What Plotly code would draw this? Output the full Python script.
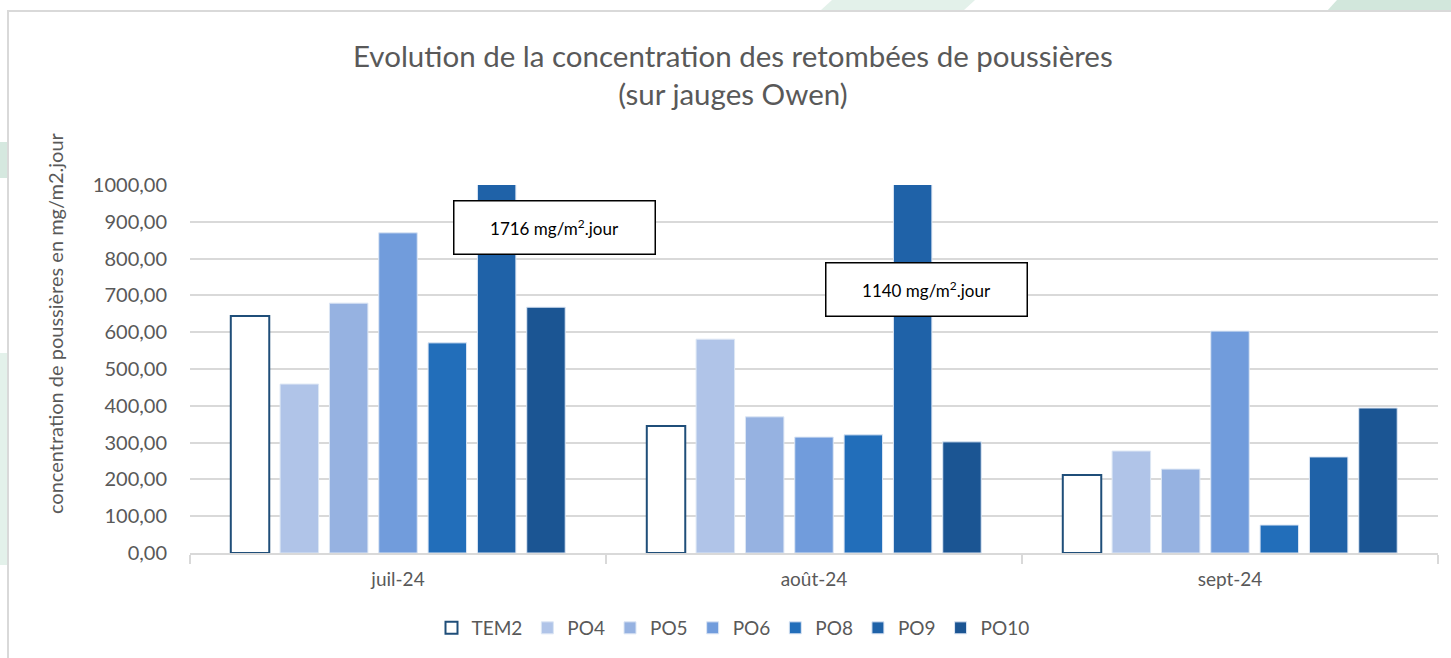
import plotly.graph_objects as go

months = ["juil-24", "août-24", "sept-24"]
series_names = ["TEM2", "PO4", "PO5", "PO6", "PO8", "PO9", "PO10"]
TEM2 = [644, 345, 212]
PO4 = [459, 581, 277]
PO5 = [679, 370, 228]
PO6 = [870, 315, 603]
PO8 = [571, 321, 76]
PO9 = [1716, 1140, 261]
PO10 = [668, 302, 394]
series_values = [TEM2, PO4, PO5, PO6, PO8, PO9, PO10]
fill_colors = ["#FFFFFF", "#B0C4E8", "#96B2E1", "#719CDC", "#226EBA", "#1F62A8", "#1B5593"]
line_colors = ["#1F4E79", "#DCE6F4", "#DCE6F4", "#DCE6F4", "#DCE6F4", "#DCE6F4", "#DCE6F4"]
line_widths = [2, 1, 1, 1, 1, 1, 1]
callouts = ["1716 mg/m<sup>2</sup>.jour", "1140 mg/m<sup>2</sup>.jour"]
title_text = "Evolution de la concentration des retombées de poussières<br>(sur jauges Owen)"
y_title = "concentration de poussières en mg/m2.jour"

FONT = "Lato"
GREY = "#595959"

fig = go.Figure()
for name, vals, fc, lc, lw in zip(series_names, series_values, fill_colors, line_colors, line_widths):
    fig.add_trace(go.Bar(
        name=name, x=months, y=vals,
        marker=dict(color=fc, line=dict(color=lc, width=lw)),
    ))

W, H = 1451, 658
L, R, T, B = 190, 13, 185, 105
pw, ph = W - L - R, H - T - B

def px_x(p):
    return (p - L) / pw

def px_y(p):
    return (H - B - p) / ph

shapes = []
for x0, x1, y0, y1, c in [(0, 7, 142, 178, "#D5E8DF"), (0, 7, 353, 565, "#E3F1EA")]:
    shapes.append(dict(type="rect", xref="paper", yref="paper", x0=px_x(x0), x1=px_x(x1),
                       y0=px_y(y1), y1=px_y(y0), fillcolor=c, line=dict(width=0), layer="below"))
shapes.append(dict(type="path", xref="paper", yref="paper",
                   path=f"M {px_x(820)} {px_y(11)} L {px_x(832)} {px_y(0)} L {px_x(975)} {px_y(0)} L {px_x(963)} {px_y(11)} Z",
                   fillcolor="#E3F1EA", line=dict(width=0), layer="below"))
shapes.append(dict(type="path", xref="paper", yref="paper",
                   path=f"M {px_x(1327)} {px_y(11)} L {px_x(1337)} {px_y(0)} L {px_x(1451)} {px_y(0)} L {px_x(1451)} {px_y(11)} Z",
                   fillcolor="#D2E7DC", line=dict(width=0), layer="below"))
shapes.append(dict(type="rect", xref="paper", yref="paper", x0=px_x(8), x1=px_x(1460),
                   y0=px_y(670), y1=px_y(11), line=dict(color="#D9D9D9", width=2),
                   fillcolor="rgba(0,0,0,0)", layer="below"))

annotations = []
for txt, (cx, cy) in zip(callouts, [(554, 227), (926, 289)]):
    annotations.append(dict(text=txt, xref="paper", yref="paper", x=px_x(cx), y=px_y(cy),
                            xanchor="center", yanchor="middle", showarrow=False,
                            font=dict(family=FONT, size=17, color="#000000"),
                            bgcolor="#FFFFFF", bordercolor="#000000", borderwidth=1.5,
                            width=198, height=50))
annotations.append(dict(text=title_text, xref="paper", yref="paper", x=px_x(733), y=px_y(74),
                        xanchor="center", yanchor="middle", showarrow=False,
                        font=dict(family=FONT, size=29.5, color=GREY)))
annotations.append(dict(text=y_title, xref="paper", yref="paper", x=px_x(55), y=px_y(323),
                        xanchor="center", yanchor="middle", showarrow=False, textangle=-90,
                        font=dict(family=FONT, size=20, color=GREY)))

fig.update_layout(
    width=W, height=H,
    margin=dict(l=L, r=R, t=T, b=B),
    paper_bgcolor="#FFFFFF", plot_bgcolor="#FFFFFF",
    font=dict(family=FONT, color=GREY, size=18),
    separators=", ",
    barmode="group", bargap=0.17, bargroupgap=0.22,
    legend=dict(orientation="h", xref="container", yref="container",
                x=733 / W, xanchor="center", y=1 - 628 / H, yanchor="middle",
                font=dict(family=FONT, size=19, color=GREY), itemwidth=30,
                traceorder="normal"),
    shapes=shapes,
    annotations=annotations,
)
fig.update_yaxes(range=[0, 1000], dtick=100, tickformat=".2f",
                 showgrid=True, gridcolor="#D9D9D9", gridwidth=1.5,
                 zeroline=False, showline=False, ticks="",
                 ticklabelstandoff=22,
                 tickfont=dict(family=FONT, size=20, color=GREY))
fig.update_xaxes(showline=True, linecolor="#D9D9D9", linewidth=1.5,
                 ticks="outside", tickson="boundaries", ticklen=9, tickcolor="#D9D9D9", tickwidth=1.5,
                 tickfont=dict(family=FONT, size=19, color=GREY), ticklabelstandoff=8)

fig.write_html("out.html", config={"displayModeBar": False},
               post_script="document.body.style.margin='0';")
